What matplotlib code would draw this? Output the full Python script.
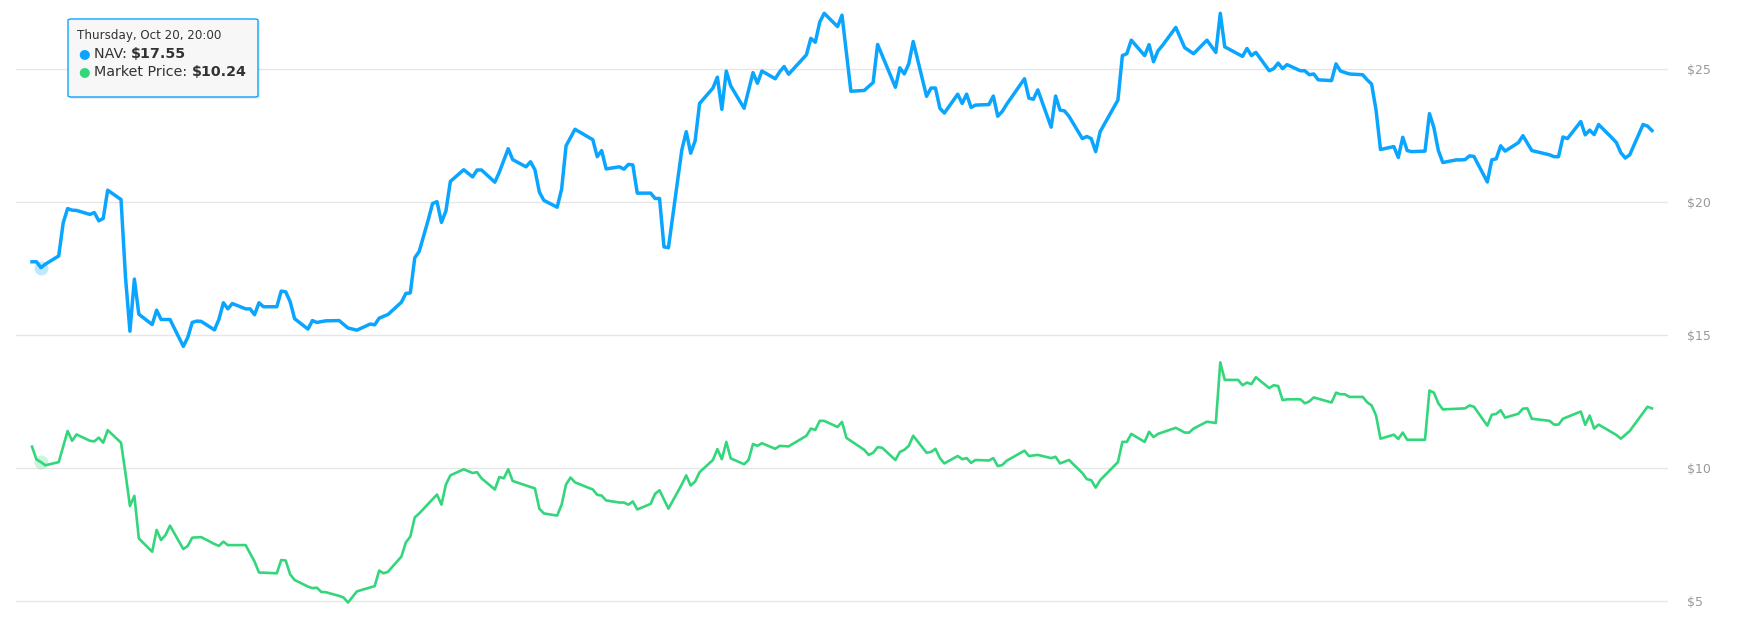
import numpy as np
import pandas as pd
import matplotlib
matplotlib.use('Agg')
import matplotlib.pyplot as plt
from matplotlib.patches import FancyBboxPatch

# trading days counted from the first point (Tue Oct 18 2022)
start = pd.Timestamp('2022-10-18')

nav_days = [0, 1, 2, 3, 6, 7, 8, 9, 10, 13, 14, 15, 16, 17, 20, 21, 22, 23, 24, 27,
            28, 29, 31, 34, 35, 36, 37, 38, 41, 42, 43, 44, 45, 48, 49, 50, 51, 52, 55, 56,
            57, 58, 59, 62, 63, 64, 66, 69, 71, 73, 76, 77, 78, 80, 83, 84, 85, 86, 87, 89,
            90, 91, 92, 93, 94, 97, 99, 100, 101, 104, 105, 107, 108, 111, 112, 113, 114, 115, 118, 119,
            120, 122, 126, 127, 128, 129, 132, 133, 134, 135, 136, 139, 140, 141, 142, 143, 146, 147, 148, 149,
            150, 153, 154, 155, 156, 157, 160, 162, 163, 164, 167, 168, 169, 170, 174, 175, 176, 177, 178, 181,
            182, 184, 187, 189, 190, 194, 195, 196, 197, 198, 201, 202, 203, 204, 205, 208, 209, 210, 211, 212,
            215, 216, 217, 218, 219, 223, 224, 225, 226, 229, 230, 231, 232, 233, 236, 237, 238, 239, 240, 244,
            245, 246, 247, 250, 251, 252, 253, 254, 257, 259, 261, 264, 266, 267, 268, 272, 273, 274, 275, 278,
            279, 280, 281, 282, 285, 286, 287, 288, 289, 292, 293, 294, 296, 299, 300, 301, 302, 303, 306, 307,
            308, 309, 310, 313, 314, 315, 316, 317, 320, 321, 322, 323, 324, 327, 328, 329, 330, 331, 334, 335,
            337, 341, 342, 343, 344, 345, 348, 349, 350, 351, 352, 355, 356, 357, 358, 359, 362, 363, 364]
nav = [17.77, 17.77, 17.55, 17.68, 17.99, 19.23, 19.77, 19.71, 19.70, 19.55, 19.62, 19.31, 19.40, 20.46, 20.11, 17.20, 15.16, 17.12, 15.80, 15.41,
       15.95, 15.60, 15.60, 14.59, 14.93, 15.49, 15.54, 15.53, 15.21, 15.61, 16.23, 16.00, 16.20, 16.00, 16.00, 15.78, 16.23, 16.08, 16.08, 16.67,
       16.64, 16.27, 15.63, 15.24, 15.56, 15.49, 15.55, 15.56, 15.28, 15.20, 15.43, 15.40, 15.65, 15.79, 16.25, 16.58, 16.60, 17.92, 18.16, 19.33,
       19.96, 20.03, 19.25, 19.68, 20.79, 21.23, 20.96, 21.22, 21.22, 20.76, 21.14, 22.02, 21.61, 21.34, 21.53, 21.23, 20.39, 20.08, 19.82, 20.50,
       22.13, 22.75, 22.36, 21.72, 21.95, 21.26, 21.34, 21.25, 21.43, 21.41, 20.35, 20.35, 20.15, 20.15, 18.33, 18.30, 21.97, 22.66, 21.85, 22.32,
       23.72, 24.30, 24.71, 23.50, 24.94, 24.38, 23.54, 24.88, 24.48, 24.94, 24.65, 24.91, 25.11, 24.82, 25.55, 26.17, 26.02, 26.78, 27.11, 26.61,
       27.04, 24.18, 24.21, 24.51, 25.94, 24.33, 25.06, 24.83, 25.21, 26.05, 23.99, 24.30, 24.30, 23.54, 23.36, 24.07, 23.72, 24.07, 23.57, 23.66,
       23.68, 24.00, 23.24, 23.42, 23.69, 24.65, 23.92, 23.88, 24.23, 22.83, 24.00, 23.47, 23.44, 23.24, 22.40, 22.48, 22.40, 21.91, 22.66, 23.85,
       25.52, 25.59, 26.10, 25.52, 25.93, 25.29, 25.70, 25.90, 26.58, 25.82, 25.59, 26.10, 25.64, 27.11, 25.85, 25.49, 25.79, 25.52, 25.64, 24.95,
       25.03, 25.24, 25.03, 25.18, 24.95, 24.95, 24.80, 24.83, 24.61, 24.58, 25.21, 24.94, 24.83, 24.80, 24.61, 24.45, 23.47, 21.99, 22.10, 21.69,
       22.45, 21.95, 21.91, 21.93, 23.34, 22.81, 21.95, 21.50, 21.60, 21.60, 21.61, 21.75, 21.73, 20.77, 21.60, 21.64, 22.13, 21.93, 22.25, 22.51,
       21.95, 21.79, 21.72, 21.72, 22.46, 22.40, 23.04, 22.54, 22.72, 22.55, 22.93, 22.43, 22.25, 21.87, 21.67, 21.79, 22.93, 22.87, 22.70]

mkt_days = [0, 1, 2, 3, 6, 7, 8, 9, 10, 13, 14, 15, 16, 17, 20, 21, 22, 23, 24, 27,
            28, 29, 30, 31, 34, 35, 36, 38, 41, 42, 43, 44, 48, 49, 50, 51, 55, 56, 57, 58,
            59, 62, 63, 64, 65, 66, 69, 70, 71, 73, 76, 77, 78, 79, 80, 83, 84, 85, 86, 87,
            91, 92, 93, 94, 97, 99, 100, 101, 104, 105, 106, 107, 108, 113, 114, 115, 118, 119, 120, 121,
            122, 126, 127, 128, 129, 132, 133, 134, 135, 136, 139, 140, 141, 143, 146, 147, 148, 149, 150, 153,
            154, 155, 156, 157, 160, 161, 162, 163, 164, 167, 168, 170, 174, 175, 176, 177, 178, 181, 182, 183,
            187, 188, 189, 190, 191, 194, 195, 196, 197, 198, 201, 202, 203, 204, 205, 208, 209, 210, 211, 212,
            215, 216, 217, 218, 219, 223, 224, 226, 229, 230, 231, 233, 236, 237, 238, 239, 240, 244, 245, 246,
            247, 250, 251, 252, 253, 257, 259, 260, 261, 264, 266, 267, 268, 271, 272, 273, 274, 275, 278, 279,
            280, 281, 282, 285, 286, 287, 288, 292, 293, 294, 295, 296, 299, 300, 301, 302, 303, 306, 307, 308,
            309, 313, 314, 315, 316, 317, 322, 323, 324, 327, 328, 329, 330, 331, 334, 335, 336, 337, 341, 342,
            343, 344, 348, 349, 350, 351, 352, 356, 357, 359, 363, 364]
mkt = [10.82, 10.34, 10.24, 10.12, 10.24, 10.82, 11.41, 11.04, 11.28, 11.04, 11.02, 11.16, 10.97, 11.44, 10.97, 9.82, 8.59, 8.97, 7.37, 6.87,
       7.69, 7.31, 7.50, 7.85, 6.97, 7.09, 7.40, 7.42, 7.16, 7.09, 7.25, 7.12, 7.12, 6.81, 6.50, 6.09, 6.06, 6.56, 6.54, 6.02,
       5.81, 5.56, 5.50, 5.52, 5.36, 5.35, 5.21, 5.15, 4.96, 5.38, 5.53, 5.58, 6.16, 6.06, 6.12, 6.69, 7.22, 7.44, 8.16, 8.31,
       9.02, 8.64, 9.40, 9.74, 9.97, 9.83, 9.86, 9.63, 9.21, 9.68, 9.63, 9.97, 9.53, 9.25, 8.49, 8.31, 8.23, 8.64, 9.40, 9.66,
       9.48, 9.21, 9.01, 8.98, 8.80, 8.72, 8.72, 8.64, 8.76, 8.46, 8.67, 9.05, 9.18, 8.49, 9.40, 9.74, 9.36, 9.51, 9.86, 10.32,
       10.73, 10.35, 11.00, 10.38, 10.16, 10.32, 10.92, 10.85, 10.95, 10.74, 10.85, 10.83, 11.23, 11.50, 11.45, 11.79, 11.79, 11.56, 11.75, 11.15,
       10.70, 10.51, 10.59, 10.80, 10.78, 10.32, 10.62, 10.70, 10.85, 11.23, 10.59, 10.62, 10.74, 10.39, 10.19, 10.47, 10.35, 10.39, 10.21, 10.32,
       10.30, 10.39, 10.09, 10.13, 10.29, 10.67, 10.47, 10.51, 10.39, 10.44, 10.19, 10.32, 9.83, 9.60, 9.56, 9.28, 9.56, 10.24, 11.00, 11.00,
       11.30, 11.00, 11.38, 11.18, 11.30, 11.53, 11.35, 11.35, 11.50, 11.76, 11.71, 13.99, 13.33, 13.33, 13.13, 13.23, 13.17, 13.43, 13.02, 13.13,
       13.10, 12.57, 12.60, 12.60, 12.45, 12.52, 12.67, 12.48, 12.85, 12.79, 12.79, 12.69, 12.69, 12.49, 12.37, 11.99, 11.12, 11.27, 11.11, 11.35,
       11.08, 11.08, 12.93, 12.85, 12.45, 12.22, 12.26, 12.37, 12.32, 11.61, 12.02, 12.05, 12.19, 11.91, 12.06, 12.25, 12.26, 11.87, 11.79, 11.65,
       11.65, 11.87, 12.14, 11.64, 11.99, 11.50, 11.65, 11.26, 11.12, 11.41, 12.32, 12.26]

ticks = [5, 10, 15, 20, 25]
tick_labels = ['$5', '$10', '$15', '$20', '$25']

hover_day = 2
hover_nav = 17.55
hover_mkt = 10.24

nav_color = '#0aa5ff'
mkt_color = '#34d67c'

nav_dates = start + pd.to_timedelta(nav_days, unit='D')
mkt_dates = start + pd.to_timedelta(mkt_days, unit='D')
hover_date = start + pd.Timedelta(days=hover_day)

plt.rcParams['font.family'] = ['DejaVu Sans']
fig = plt.figure(figsize=(17.5, 6.33), dpi=100)
# plot area: $25 grid line at y=69.5px, $5 at y=601.5px (26.6 px per dollar)
ax = fig.add_axes([16 / 1750, 26 / 633, 1652 / 1750, 607 / 633])

ax.plot(nav_dates, nav, color=nav_color, lw=2.5, solid_joinstyle='round', zorder=3)
ax.plot(mkt_dates, mkt, color=mkt_color, lw=1.9, solid_joinstyle='round', zorder=3)

# hover halos
ax.plot([hover_date], [hover_nav], 'o', ms=10, color=nav_color, alpha=0.25, mec='none', zorder=2)
ax.plot([hover_date], [hover_mkt], 'o', ms=10, color=mkt_color, alpha=0.25, mec='none', zorder=2)

ax.set_xlim(start - pd.Timedelta(days=3.6), start + pd.Timedelta(days=367.6))
ax.set_ylim(5 - 5.5 / 26.6, 27.61)
ax.set_yticks(ticks)
ax.set_yticklabels(tick_labels)
ax.yaxis.tick_right()
ax.tick_params(axis='y', length=0, pad=14, labelsize=9, labelcolor='#999999')
ax.set_xticks([])
ax.grid(axis='y', color='#e6e6e6', lw=1)
ax.set_axisbelow(True)
for s in ax.spines.values():
    s.set_visible(False)

# tooltip
W, H = 1750, 633
bx, by, bw, bh = 68, 19, 190, 78
shadow = FancyBboxPatch(((bx + 2) / W, 1 - (by + bh + 2) / H), bw / W, bh / H,
                        boxstyle='round,pad=0,rounding_size=0.002', transform=fig.transFigure,
                        fc='#000000', ec='none', alpha=0.08, zorder=9)
fig.add_artist(shadow)
box = FancyBboxPatch((bx / W, 1 - (by + bh) / H), bw / W, bh / H,
                     boxstyle='round,pad=0,rounding_size=0.002', transform=fig.transFigure,
                     fc='#f7f7f7', ec=nav_color, lw=1, zorder=10)
fig.add_artist(box)

fig.text(77 / W, 1 - 36 / H, 'Thursday, Oct 20, 20:00', fontsize=8.6, color='#333333',
         va='center', ha='left', zorder=11)
rows = [('NAV: ', '\\$%.2f' % hover_nav, nav_color, 54),
        ('Market Price: ', '\\$%.2f' % hover_mkt, mkt_color, 72)]
for name, val, col, yy in rows:
    fig.text(78 / W, 1 - yy / H, '\u25cf', fontsize=9.5, color=col, va='center', ha='left', zorder=11)
    t = fig.text(94 / W, 1 - yy / H, name, fontsize=10.3, color='#333333', va='center', ha='left', zorder=11)
    fig.add_artist(plt.Annotation(val, xy=(1, 0), xycoords=t, fontsize=10.3, fontweight='bold',
                                  color='#333333', va='bottom', ha='left', zorder=11))

fig.savefig('out.png', dpi=100, facecolor='white')
